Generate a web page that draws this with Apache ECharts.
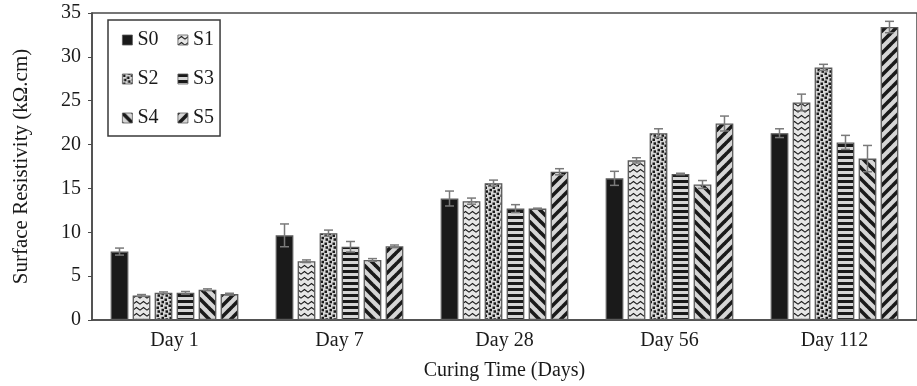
<!DOCTYPE html>
<html>
<head>
<meta charset="utf-8">
<script src="https://cdn.jsdelivr.net/npm/echarts@6/dist/echarts.min.js"></script>
<style>
  html, body { margin: 0; padding: 0; background: #fff; }
  #chart { width: 917px; height: 386px; }
</style>
</head>
<body>
<div id="chart"></div>
<script>
// Curing ages on the category axis
const categories = ['Day 1', 'Day 7', 'Day 28', 'Day 56', 'Day 112'];
const seriesNames = ['S0', 'S1', 'S2', 'S3', 'S4', 'S5'];

// Mean surface resistivity (kΩ.cm) per mix
const S0 = [7.8, 9.65, 13.85, 16.15, 21.3];
const S1 = [2.8, 6.7, 13.55, 18.2, 24.8];
const S2 = [3.1, 9.9, 15.6, 21.3, 28.8];
const S3 = [3.1, 8.35, 12.7, 16.65, 20.25];
const S4 = [3.45, 6.85, 12.7, 15.45, 18.4];
const S5 = [2.95, 8.4, 16.9, 22.4, 33.4];

// Standard deviations (error bar half-lengths)
const S0err = [0.4, 1.3, 0.85, 0.8, 0.5];
const S1err = [0.1, 0.15, 0.35, 0.3, 0.95];
const S2err = [0.1, 0.35, 0.35, 0.5, 0.35];
const S3err = [0.15, 0.6, 0.45, 0.08, 0.8];
const S4err = [0.1, 0.15, 0.05, 0.45, 1.5];
const S5err = [0.1, 0.15, 0.35, 0.85, 0.65];

// Y axis tick range
const yMin = 0, yMax = 35, yStep = 5;

const values = [S0, S1, S2, S3, S4, S5];
const errors = [S0err, S1err, S2err, S3err, S4err, S5err];

const FONT = '"Liberation Serif", "Times New Roman", serif';
const INK = '#1a1a1a';
const PAPER = '#d6d6d6';

// Fill patterns drawn on small tiles
function tile(w, h, draw) {
  const c = document.createElement('canvas');
  c.width = w; c.height = h;
  const g = c.getContext('2d');
  g.fillStyle = PAPER;
  g.fillRect(0, 0, w, h);
  g.fillStyle = INK;
  g.strokeStyle = INK;
  draw(g, w, h);
  return { image: c, repeat: 'repeat' };
}
const patterns = [
  INK,
  // wavy chevrons
  tile(7, 6, (g) => {
    g.fillStyle = '#e6e6e6'; g.fillRect(0, 0, 7, 6);
    g.lineWidth = 1.1;
    g.beginPath(); g.moveTo(-0.5, 4.5); g.lineTo(3.5, 1.5); g.lineTo(7.5, 4.5); g.stroke();
  }),
  // scattered squares
  tile(8, 8, (g) => {
    g.fillRect(0.5, 0.5, 2.5, 2.5);
    g.fillRect(4.5, 2.5, 2.5, 2.5);
    g.fillRect(1.5, 4.8, 2.5, 2.5);
    g.fillRect(5.5, 6.3, 2.5, 1.7);
    g.fillRect(5.5, 0, 2.5, 0.8);
  }),
  // horizontal stripes
  tile(4, 6, (g) => { g.fillRect(0, 0, 4, 3); }),
  // backward diagonal
  tile(11, 11, (g) => {
    g.lineWidth = 3.6;
    for (const k of [-11, 0, 11]) { g.beginPath(); g.moveTo(k - 1, -1); g.lineTo(k + 12, 12); g.stroke(); }
  }),
  // forward diagonal
  tile(11, 11, (g) => {
    g.lineWidth = 3.6;
    for (const k of [-11, 0, 11]) { g.beginPath(); g.moveTo(k - 1, 12); g.lineTo(k + 12, -1); g.stroke(); }
  })
];

const CAT_GAP = 0.226;
const BAR_GAP = 0.24;

const barSeries = seriesNames.map((name, i) => ({
  name: name,
  type: 'bar',
  data: values[i],
  barGap: (BAR_GAP * 100) + '%',
  barCategoryGap: (CAT_GAP * 100) + '%',
  itemStyle: {
    color: patterns[i],
    borderColor: '#5a5a5a',
    borderWidth: 1.3
  },
  z: 2
}));

// Error bars positioned with the same grouping rule the bars use
const errData = [];
seriesNames.forEach((name, i) => {
  categories.forEach((c, j) => {
    errData.push([j, values[i][j], errors[i][j], i]);
  });
});

const errorSeries = {
  type: 'custom',
  data: errData,
  z: 5,
  silent: true,
  renderItem: function (params, api) {
    const cat = api.value(0), v = api.value(1), e = api.value(2), idx = api.value(3);
    const n = seriesNames.length;
    const band = api.size([1, 0])[0];
    const usable = band * (1 - CAT_GAP);
    const bw = usable / (n + (n - 1) * BAR_GAP);
    const cx = api.coord([cat, 0])[0] - usable / 2 + idx * bw * (1 + BAR_GAP) + bw / 2;
    const yTop = api.coord([cat, v + e])[1];
    const yBot = api.coord([cat, v - e])[1];
    const hw = 4.5;
    const style = { stroke: '#7a7a7a', lineWidth: 1.5, fill: null };
    return {
      type: 'group',
      children: [
        { type: 'line', shape: { x1: cx, y1: yTop, x2: cx, y2: yBot }, style: style },
        { type: 'line', shape: { x1: cx - hw, y1: yTop, x2: cx + hw, y2: yTop }, style: style },
        { type: 'line', shape: { x1: cx - hw, y1: yBot, x2: cx + hw, y2: yBot }, style: style }
      ]
    };
  }
};

const chart = echarts.init(document.getElementById('chart'), null, { renderer: 'canvas' });
chart.setOption({
  animation: false,
  backgroundColor: '#ffffff',
  textStyle: { fontFamily: FONT },
  grid: {
    left: 92, top: 13, width: 835, height: 307.5,
    show: true, borderColor: '#4a4a4a', borderWidth: 1.5, backgroundColor: 'transparent'
  },
  legend: {
    data: seriesNames,
    left: 108, top: 20, width: 120,
    orient: 'horizontal',
    itemWidth: 10, itemHeight: 10, itemGap: 19,
    padding: [10, 6, 8, 14],
    backgroundColor: '#ffffff',
    borderColor: '#3a3a3a', borderWidth: 1.5,
    icon: 'rect',
    itemStyle: { borderColor: '#5a5a5a', borderWidth: 0.8 },
    textStyle: { fontFamily: FONT, fontSize: 20, color: INK, padding: [0, 0, 0, 0] }
  },
  xAxis: {
    type: 'category',
    data: categories,
    name: 'Curing Time (Days)',
    nameLocation: 'middle',
    nameGap: 41,
    nameTextStyle: { fontFamily: FONT, fontSize: 20, color: INK },
    axisLine: { lineStyle: { color: '#4a4a4a', width: 1.5 } },
    axisTick: { show: false },
    axisLabel: { fontFamily: FONT, fontSize: 20, color: INK, margin: 11 }
  },
  yAxis: {
    type: 'value',
    min: yMin, max: yMax, interval: yStep,
    name: 'Surface Resistivity (kΩ.cm)',
    nameLocation: 'middle',
    nameGap: 60,
    nameTextStyle: { fontFamily: FONT, fontSize: 21, color: INK },
    axisLine: { show: true, lineStyle: { color: '#4a4a4a', width: 1.5 } },
    axisTick: { show: true, length: 4, lineStyle: { color: '#4a4a4a' } },
    splitLine: { show: false },
    axisLabel: { fontFamily: FONT, fontSize: 20, color: INK, margin: 11 }
  },
  series: barSeries.concat([errorSeries])
});
</script>
</body>
</html>
